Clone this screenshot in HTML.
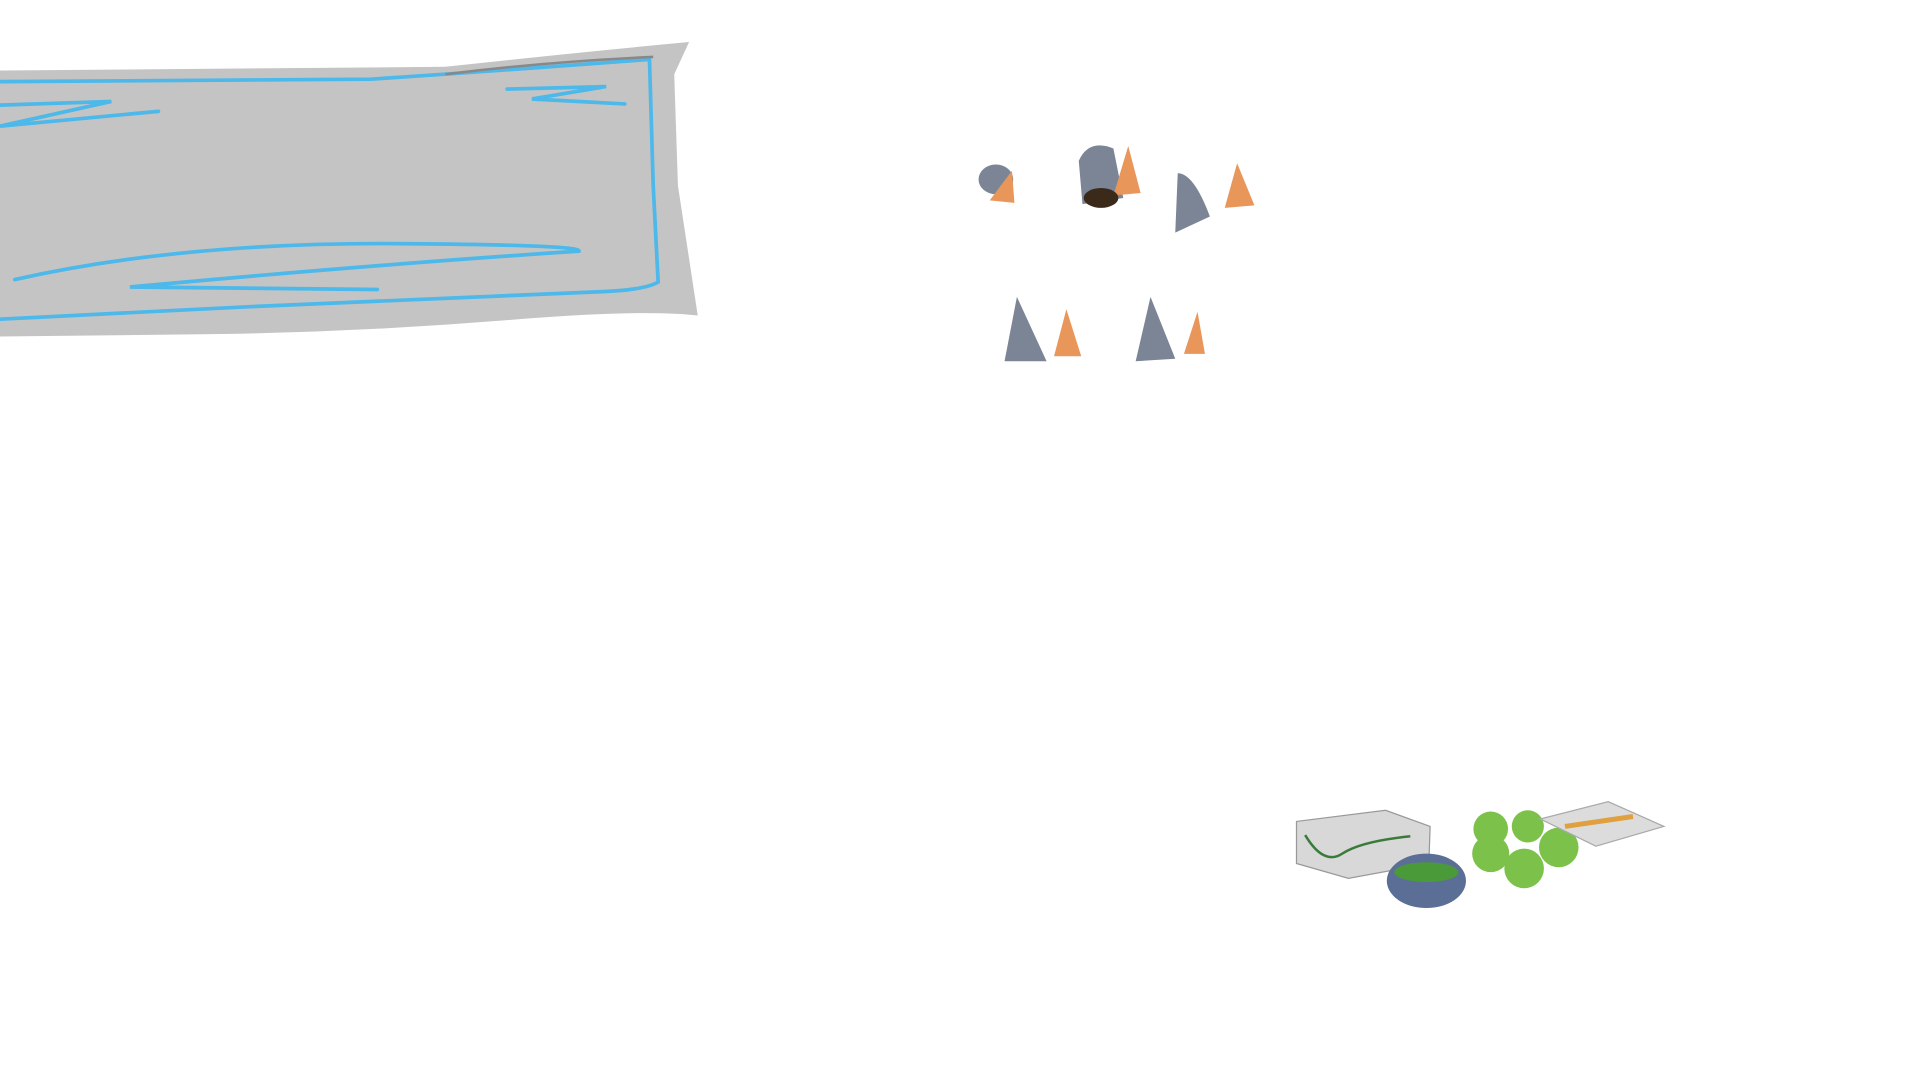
<!DOCTYPE html>
<html><head><style>html,body{margin:0;padding:0;background:#fff;width:1920px;height:1080px;overflow:hidden}</style></head>
<body>
<svg width="1920" height="1080" viewBox="0 0 1552 873" preserveAspectRatio="none" xmlns="http://www.w3.org/2000/svg">
<path d="M0,57 L360,54 Q470,42 557,34 L545,60 L548,150 L564,255 Q520,250 420,258 Q300,268 180,270 L0,272 Z" fill="#c4c4c4"/>
<g fill="none" stroke="#4db8ea" stroke-width="3" stroke-linecap="round">
<path d="M0,66 L300,64 Q420,56 525,48 L528,150 L532,228 Q520,235 480,236 L200,248 L0,258"/>
<path d="M0,85 L90,82 L0,102 L128,90"/>
<path d="M410,72 L490,70 L430,80 L505,84"/>
<path d="M12,226 Q150,195 330,197 Q470,198 468,203 Q300,214 105,232 L305,234"/>
</g>
<path d="M360,60 Q440,50 528,46" stroke="#888" stroke-width="2" fill="none"/>
<g fill="#7b8596">
<ellipse cx="805" cy="145" rx="14" ry="12"/>
<path d="M872,130 Q880,112 900,120 L908,160 L875,165 Z"/>
<path d="M952,140 Q965,140 978,175 L950,188 Z"/>
<path d="M822,240 L812,292 L846,292 Z"/>
<path d="M930,240 L918,292 L950,290 Z"/>
</g>
<g fill="#e8965a">
<path d="M818,138 L800,162 L820,164 Z"/>
<path d="M912,118 L900,158 L922,156 Z"/>
<path d="M1000,132 L990,168 L1014,166 Z"/>
<path d="M862,250 L852,288 L874,288 Z"/>
<path d="M968,252 L957,286 L974,286 Z"/>
</g>
<ellipse cx="890" cy="160" rx="14" ry="8" fill="#3b2a1a"/>
<path d="M1048,664 L1120,655 L1156,668 L1155,698 L1090,710 L1048,698 Z" fill="#d8d8d8" stroke="#999"/>
<path d="M1055,675 Q1070,700 1085,690 Q1100,680 1140,676" stroke="#3a7a3a" stroke-width="2" fill="none"/>
<ellipse cx="1153" cy="712" rx="32" ry="22" fill="#5b6f96"/>
<ellipse cx="1153" cy="705" rx="26" ry="8" fill="#4a9a3a"/>
<g fill="#7cc24a"><circle cx="1205" cy="670" r="14"/><circle cx="1235" cy="668" r="13"/><circle cx="1260" cy="685" r="16"/><circle cx="1205" cy="690" r="15"/><circle cx="1232" cy="702" r="16"/></g>
<path d="M1245,662 L1300,648 L1345,668 L1290,684 Z" fill="#dcdcdc" stroke="#aaa"/>
<path d="M1265,668 L1320,660" stroke="#e0a040" stroke-width="4"/>
</svg>
</body></html>
